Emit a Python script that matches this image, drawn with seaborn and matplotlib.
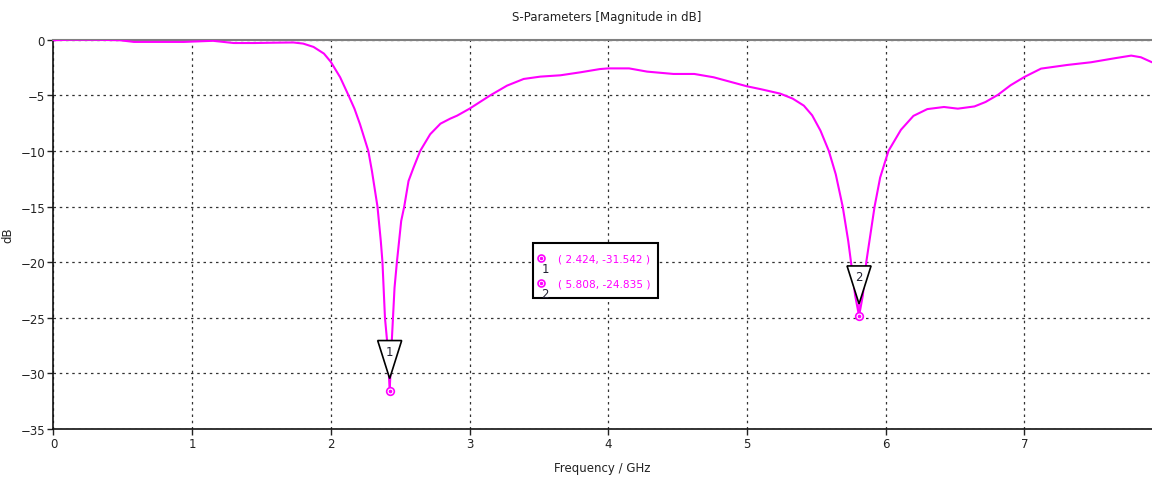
import numpy as np
import pandas as pd
import matplotlib
matplotlib.use("Agg")
import matplotlib.pyplot as plt
import seaborn as sns
from matplotlib.patches import Polygon, Rectangle
from matplotlib.transforms import ScaledTranslation

# S11 curve
freq_ghz = [0.0, 0.12, 0.3, 0.48, 0.58, 0.75, 0.94, 1.15, 1.3, 1.45, 1.59, 1.73,
            1.8, 1.875, 1.95, 2.0, 2.067, 2.127, 2.17, 2.21, 2.27, 2.296, 2.336,
            2.36, 2.372, 2.39, 2.404, 2.414, 2.424, 2.433, 2.44, 2.459, 2.476,
            2.507, 2.529, 2.56, 2.596, 2.644, 2.716, 2.79, 2.86, 2.91, 3.0, 3.15,
            3.27, 3.39, 3.51, 3.655, 3.80, 3.94, 4.0, 4.15, 4.28, 4.47, 4.62, 4.76,
            5.0, 5.10, 5.24, 5.33, 5.41, 5.47, 5.53, 5.59, 5.64, 5.69, 5.73, 5.75,
            5.78, 5.808, 5.835, 5.86, 5.89, 5.92, 5.96, 6.02, 6.11, 6.2, 6.3, 6.42,
            6.52, 6.64, 6.72, 6.81, 6.9, 7.0, 7.12, 7.31, 7.48, 7.65, 7.77, 7.84, 7.92]
s11_db = [-0.05, 0.0, 0.0, -0.05, -0.2, -0.2, -0.2, -0.1, -0.3, -0.3, -0.27, -0.25,
          -0.35, -0.65, -1.25, -2.0, -3.38, -5.0, -6.2, -7.6, -10.0, -11.8, -15.0,
          -18.1, -20.0, -25.0, -26.9, -29.0, -31.54, -29.0, -26.9, -22.3, -20.0,
          -16.3, -15.0, -12.7, -11.5, -10.0, -8.5, -7.55, -7.1, -6.83, -6.2, -5.0,
          -4.13, -3.53, -3.32, -3.2, -2.93, -2.64, -2.58, -2.58, -2.87, -3.08, -3.08, -3.38,
          -4.19, -4.45, -4.85, -5.3, -5.93, -6.8, -8.18, -10.0, -12.1, -15.0, -18.1, -20.0,
          -23.0, -24.84, -23.0, -20.0, -17.5, -15.0, -12.4, -10.0, -8.1, -6.85, -6.24, -6.05,
          -6.2, -6.0, -5.6, -4.95, -4.1, -3.35, -2.6, -2.27, -2.03, -1.67, -1.43, -1.58, -2.03]

# markers
marker_freq = [2.424, 5.808]
marker_db = [-31.542, -24.835]
marker_ids = ["1", "2"]

x_ticks = [0, 1, 2, 3, 4, 5, 6, 7]
y_ticks = [0, -5, -10, -15, -20, -25, -30, -35]

sns.set_style("white")
plt.rcParams["font.family"] = ["DejaVu Sans"]

df = pd.DataFrame({"Frequency": freq_ghz, "dB": s11_db})

fig = plt.figure(figsize=(11.52, 4.81), dpi=100)
ax = fig.add_axes([0.0464, 0.106, 0.9536, 0.8094])

sns.lineplot(data=df, x="Frequency", y="dB", color="#ff00ff", lw=1.5,
             estimator=None, sort=False, ax=ax, zorder=3)

ax.set_xlim(0, 7.92)
ax.set_ylim(-35, 0)
ax.set_xticks(x_ticks)
ax.set_yticks(y_ticks)
ax.tick_params(axis="both", direction="out", length=4, width=1, colors="#222222",
               labelsize=8.5, pad=2, left=True, bottom=True)
ax.grid(True, color="#333333", linestyle=(0, (2, 3)), linewidth=0.9)

for side in ["left", "bottom"]:
    ax.spines[side].set_color("#111111")
    ax.spines[side].set_linewidth(1.2)
ax.spines["top"].set_color("#808080")
ax.spines["top"].set_linewidth(1.5)
ax.spines["right"].set_visible(False)

ax.set_xlabel("Frequency / GHz", fontsize=8.5, color="#222222", labelpad=8)
ax.set_ylabel("dB", fontsize=8.5, color="#222222")
ax.yaxis.set_label_coords(-0.036, 0.5)
fig.text(0.527, 0.964, "S-Parameters [Magnitude in dB]", ha="center", va="center",
         fontsize=8.5, color="#222222")

# marker triangles
for f, d, mid in zip(marker_freq, marker_db, marker_ids):
    off = fig.dpi_scale_trans + ScaledTranslation(f, d, ax.transData)
    ax.plot([0, 0], [0, 0.12], color="#ff00ff", lw=1.2, transform=off, zorder=4)
    tri = Polygon([(0, 0.12), (-0.12, 0.50), (0.12, 0.50)], closed=True,
                  facecolor="white", edgecolor="black", lw=1.2, transform=off, zorder=5)
    ax.add_patch(tri)
    ax.text(0, 0.395, mid, transform=off, ha="center", va="center",
            fontsize=8.5, color="#222233", zorder=6)
    ax.plot(f, d, marker="o", ms=5.5, mfc="white", mec="#ff00ff", mew=1.2, zorder=6)
    ax.plot(f, d, marker="o", ms=1.6, color="#ff00ff", zorder=7)

# marker table box
box = Rectangle((0.4365, 0.3365), 0.1138, 0.1413, transform=ax.transAxes,
                facecolor="white", edgecolor="black", lw=1.5, zorder=8)
ax.add_patch(box)
row_y = [0.4392, 0.375]
for f, d, mid, yy in zip(marker_freq, marker_db, marker_ids, row_y):
    ax.plot(0.4438, yy, marker="o", ms=5, mfc="white", mec="#ff00ff", mew=1.2,
            transform=ax.transAxes, zorder=9)
    ax.plot(0.4438, yy, marker="o", ms=1.5, color="#ff00ff",
            transform=ax.transAxes, zorder=10)
    ax.text(0.4474, yy - 0.026, mid, transform=ax.transAxes, ha="center", va="center",
            fontsize=8.5, color="#222233", zorder=10)
    ax.text(0.4593, yy, f"( {f:.3f}, {d:.3f} )", transform=ax.transAxes,
            ha="left", va="center", fontsize=7.6, color="#ff00ff", zorder=10)

fig.savefig("out.png", dpi=100)
